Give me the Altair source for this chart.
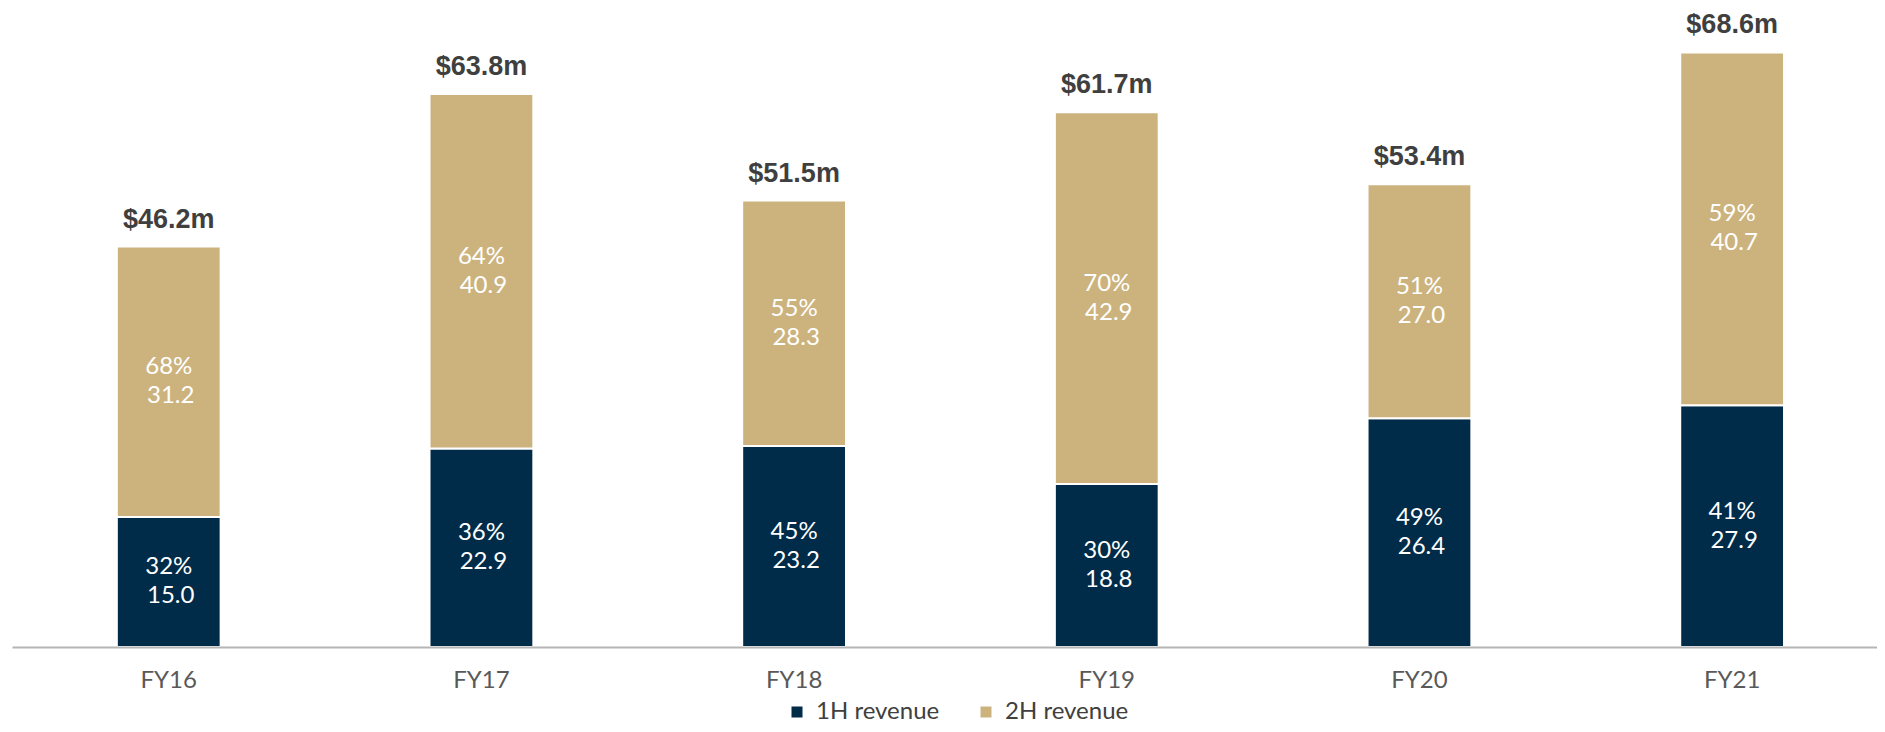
import altair as alt
import pandas as pd

years = ["FY16", "FY17", "FY18", "FY19", "FY20", "FY21"]
h1_values = [15.0, 22.9, 23.2, 18.8, 26.4, 27.9]
h2_values = [31.2, 40.9, 28.3, 42.9, 27.0, 40.7]
h1_pct = [32, 36, 45, 30, 49, 41]
h2_pct = [68, 64, 55, 70, 51, 59]
totals = [46.2, 63.8, 51.5, 61.7, 53.4, 68.6]
series = ["1H revenue", "2H revenue"]
colors = ["#002B49", "#CCB37E"]

rows = []
for i, yr in enumerate(years):
    rows.append(dict(year=yr, series=series[0], value=h1_values[i], pct=h1_pct[i],
                     y0=0.0, y1=h1_values[i], order=0))
    rows.append(dict(year=yr, series=series[1], value=h2_values[i], pct=h2_pct[i],
                     y0=h1_values[i], y1=h1_values[i] + h2_values[i], order=1))
df = pd.DataFrame(rows)
df["mid"] = (df["y0"] + df["y1"]) / 2
df["pct_label"] = df["pct"].astype(str) + "%"
df["val_label"] = df["value"].map(lambda v: f"{v:.1f}")

tot = pd.DataFrame(dict(year=years, total=totals,
                        label=[f"${t:.1f}m" for t in totals]))

xenc = alt.X(
    "year:N", sort=years,
    scale=alt.Scale(paddingInner=0.668, paddingOuter=0.3163, align=0.53),
    axis=alt.Axis(title=None, labelAngle=0, ticks=False, grid=False,
                  domainColor="#B5B5B5", domainWidth=2, labelPadding=21,
                  labelFont="Lato", labelFontSize=24, labelColor="#595959",
                  zindex=1),
)
yscale = alt.Scale(domain=[0, 73.26], nice=False, zero=True)

bars = alt.Chart(df).mark_bar(stroke="white", strokeWidth=2).encode(
    x=xenc,
    y=alt.Y("y1:Q", scale=yscale, axis=None),
    y2="y0:Q",
    color=alt.Color(
        "series:N",
        scale=alt.Scale(domain=series, range=colors),
        legend=alt.Legend(title=None, orient="none", legendX=773, legendY=688,
                          direction="horizontal", symbolType="square",
                          symbolSize=121, symbolStrokeWidth=0,
                          labelFont="Lato", labelFontSize=24,
                          labelColor="#404040", columnPadding=34,
                          labelOffset=7, padding=0),
    ),
    order="order:Q",
)

pct_text = alt.Chart(df).mark_text(
    font="Lato", fontSize=24, color="white", baseline="middle", dy=-14.5
).encode(
    x=alt.X("year:N", sort=years),
    y=alt.Y("mid:Q", scale=yscale),
    text="pct_label:N",
)

val_text = alt.Chart(df).mark_text(
    font="Lato", fontSize=24, color="white", baseline="middle", dy=14.5, dx=2
).encode(
    x=alt.X("year:N", sort=years),
    y=alt.Y("mid:Q", scale=yscale),
    text="val_label:N",
)

tot_text = alt.Chart(tot).mark_text(
    font="Liberation Sans", fontWeight="bold", fontSize=27, color="#3F3F3F",
    baseline="alphabetic", dy=-19
).encode(
    x=alt.X("year:N", sort=years),
    y=alt.Y("total:Q", scale=yscale),
    text="label:N",
)

chart = alt.layer(bars, pct_text, val_text, tot_text).properties(
    width=1865, height=635,
    autosize=alt.AutoSizeParams(type="none"),
    padding={"left": 4, "top": 4, "right": 0, "bottom": 77},
).configure_view(stroke=None)

chart.save("out.html", embed_options={"renderer": "svg", "actions": False})
